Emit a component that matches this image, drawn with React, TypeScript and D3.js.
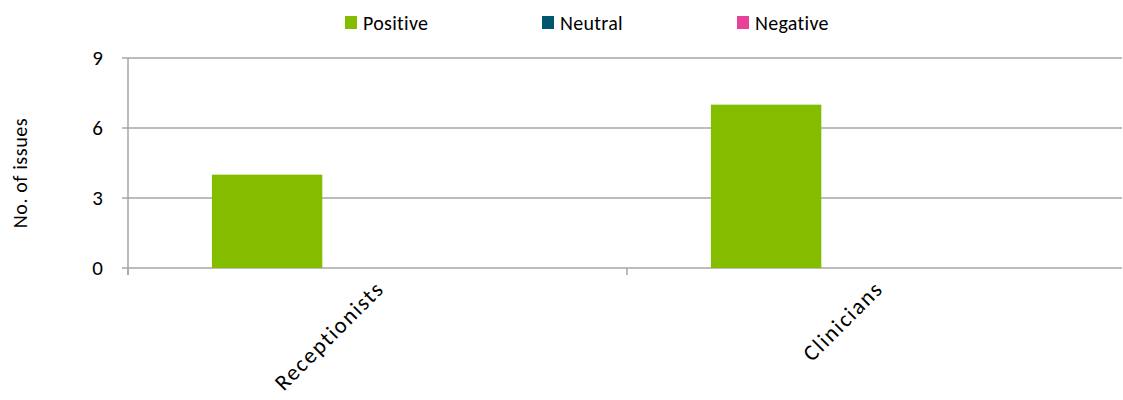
import React from "react";
import * as d3 from "d3";

const categories = ["Receptionists", "Clinicians"];
const seriesNames = ["Positive", "Neutral", "Negative"];
const positive = [4, 7];
const neutral = [0, 0];
const negative = [0, 0];
const yTicks = [0, 3, 6, 9];
const colors = ["#84BD00", "#00556F", "#E8419A"];
const legendX = [345, 542, 737];

export default function App() {
  const W = 1123, H = 400;
  const left = 128, right = 1126, top = 58, bottom = 268;
  const x = d3.scaleBand<string>().domain(categories).range([left, right]).paddingInner(0).paddingOuter(0);
  const inner = d3.scaleBand<string>().domain(seriesNames).range([0, x.bandwidth()]).paddingOuter(0.76).paddingInner(0);
  const y = d3.scaleLinear().domain([0, 9]).range([bottom, top]);
  const values = [positive, neutral, negative];
  const font = "Carlito, 'Open Sans', 'Liberation Sans', sans-serif";
  const grid = "#A6A6A6";
  return (
    <svg width={W} height={H} style={{ position: "absolute", left: 0, top: 0 }} fontFamily={font}>
      <rect width={W} height={H} fill="#fff" />
      {yTicks.map((t) => (
        <g key={t}>
          <line x1={left - 6} x2={1122} y1={y(t)} y2={y(t)} stroke={grid} strokeWidth={1.5} />
          <text x={103} y={y(t)} dy="0.35em" textAnchor="end" fontSize={21} fill="#000">{t}</text>
        </g>
      ))}
      <line x1={left} x2={left} y1={top} y2={bottom + 7} stroke={grid} strokeWidth={1.5} />
      {categories.map((c) => (
        <line key={c} x1={x(c)!} x2={x(c)!} y1={bottom} y2={bottom + 7} stroke={grid} strokeWidth={1.5} />
      ))}
      {seriesNames.map((s, si) =>
        categories.map((c, ci) => {
          const v = values[si][ci];
          if (!v) return null;
          return (
            <rect key={s + c} x={x(c)! + inner(s)!} width={inner.bandwidth()} y={y(v)} height={y(0) - y(v)} fill={colors[si]} />
          );
        })
      )}
      {categories.map((c) => {
        const cx = x(c)! + x.bandwidth() / 2 + 8;
        const cy = 290;
        return (
          <text key={c} transform={`translate(${cx},${cy}) rotate(-45)`} textAnchor="end" fontSize={22.5} letterSpacing={1.7} fill="#000">{c}</text>
        );
      })}
      <text transform={`translate(27,173) rotate(-90)`} textAnchor="middle" fontSize={20} letterSpacing={0.6} fill="#000">No. of issues</text>
      {seriesNames.map((s, i) => (
        <g key={s}>
          <rect x={legendX[i]} y={16} width={12} height={13} fill={colors[i]} />
          <text x={legendX[i] + 18} y={30} fontSize={20} letterSpacing={0.3} fill="#000">{s}</text>
        </g>
      ))}
    </svg>
  );
}
